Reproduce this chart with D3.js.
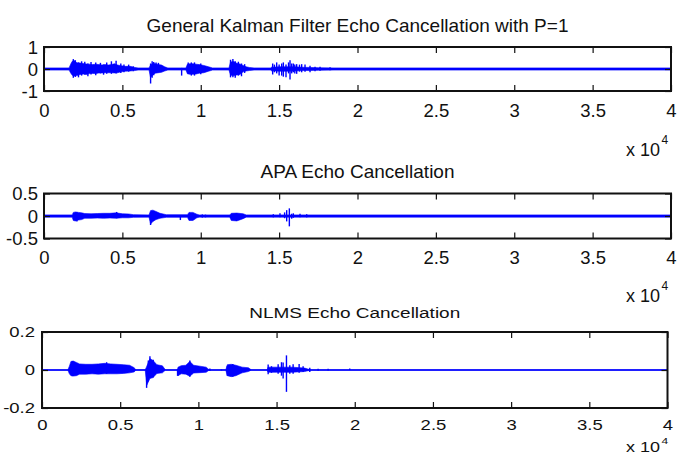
<!DOCTYPE html>
<html>
<head>
<meta charset="utf-8">
<script src="https://cdn.jsdelivr.net/npm/d3@7"></script>
<style>
body{margin:0;background:#fff}
svg{display:block}
text{font-family:"Liberation Sans",Arial,sans-serif;fill:#111}
</style>
</head>
<body>
<div id="chart"></div>
<script>
var titles = ["General Kalman Filter Echo Cancellation with P=1", "APA Echo Cancellation", "NLMS Echo Cancellation"];
var xTicks = [0, 5000, 10000, 15000, 20000, 25000, 30000, 35000, 40000];
var kalmanYTicks = [-1, 0, 1];
var apaYTicks = [-0.5, 0, 0.5];
var nlmsYTicks = [-0.2, 0, 0.2];

// envelope of each error signal (sample index, upper, lower)
var kalmanT  = [0, 1600, 1700, 1800, 1950, 2100, 2300, 2500, 2700, 2900, 3100, 3300, 3500, 3700, 3900, 4100, 4300, 4500, 4700, 4900, 5200, 5500, 5800, 6000,
                6700, 6800, 6950, 7100, 7300, 7500, 7700, 7900, 9050, 9150, 9300, 9500, 9700, 9900, 10200, 10500, 10750,
                11800, 11900, 12100, 12300, 12500, 12700, 12900, 13100, 13400, 14450, 14500, 15000, 15500, 16000, 16500, 17000, 17500, 18500, 40000];
var kalmanHi = [0.05, 0.05, 0.22, 0.35, 0.38, 0.28, 0.27, 0.25, 0.23, 0.22, 0.2, 0.22, 0.2, 0.18, 0.2, 0.18, 0.2, 0.24, 0.18, 0.15, 0.12, 0.12, 0.07, 0.05,
                0.05, 0.18, 0.26, 0.24, 0.2, 0.18, 0.1, 0.05, 0.05, 0.22, 0.24, 0.24, 0.22, 0.2, 0.16, 0.1, 0.05,
                0.05, 0.32, 0.34, 0.26, 0.23, 0.16, 0.1, 0.07, 0.05, 0.05, 0.08, 0.1, 0.1, 0.1, 0.08, 0.07, 0.06, 0.05, 0.05];
var kalmanLo = [-0.05, -0.05, -0.18, -0.28, -0.32, -0.3, -0.25, -0.23, -0.25, -0.21, -0.2, -0.21, -0.18, -0.18, -0.17, -0.17, -0.17, -0.18, -0.17, -0.13, -0.1, -0.09, -0.07, -0.05,
                -0.05, -0.4, -0.26, -0.19, -0.17, -0.15, -0.09, -0.05, -0.05, -0.22, -0.24, -0.24, -0.23, -0.19, -0.17, -0.1, -0.05,
                -0.05, -0.28, -0.3, -0.27, -0.25, -0.13, -0.09, -0.07, -0.05, -0.05, -0.08, -0.1, -0.1, -0.09, -0.07, -0.07, -0.06, -0.05, -0.05];
var kalmanSpikeT  = [1870, 2000, 2200, 2400, 2600, 2800, 3000, 3300, 3600, 3800, 4000, 4300, 4600, 4900, 5100, 5400, 5700,
                     6800, 6900, 7000, 7150, 7300, 8780, 9200, 9400, 9600, 10000, 11900, 12050, 12200, 12400, 12600, 12800,
                     14588, 14700, 14844, 15000, 15163, 15269, 15439, 15600, 15695, 15800, 15907, 16000, 16120, 16300, 16439, 16652, 16971, 17290, 17610, 18248];
var kalmanSpikeHi = [0.45, 0.4, 0.3, 0.35, 0.33, 0.25, 0.32, 0.3, 0.28, 0.2, 0.3, 0.35, 0.38, 0.25, 0.2, 0.2, 0.12,
                     0.25, 0.35, 0.32, 0.3, 0.28, 0.05, 0.3, 0.3, 0.3, 0.25, 0.42, 0.45, 0.35, 0.33, 0.25, 0.22,
                     0.25, 0.2, 0.3, 0.2, 0.25, 0.3, 0.2, 0.3, 0.4, 0.25, 0.25, 0.2, 0.22, 0.2, 0.22, 0.2, 0.15, 0.1, 0.1, 0.08];
var kalmanSpikeLo = [-0.4, -0.36, -0.38, -0.3, -0.25, -0.33, -0.25, -0.28, -0.2, -0.26, -0.22, -0.22, -0.2, -0.18, -0.15, -0.12, -0.1,
                     -0.66, -0.4, -0.28, -0.15, -0.15, -0.3, -0.22, -0.3, -0.3, -0.24, -0.38, -0.38, -0.4, -0.3, -0.33, -0.18,
                     -0.25, -0.15, -0.2, -0.3, -0.3, -0.35, -0.37, -0.2, -0.48, -0.2, -0.15, -0.2, -0.22, -0.12, -0.15, -0.12, -0.15, -0.1, -0.08, -0.06];

var apaT  = [0, 1800, 1870, 2000, 2200, 2400, 2600, 3000, 3400, 3800, 4200, 4600, 5000, 5400, 5700,
             6700, 6800, 6950, 7150, 7400, 7800, 9150, 9250, 9500, 9750, 9900, 11850, 11950, 12300, 12700, 12900, 40000];
var apaHi = [0.025, 0.025, 0.08, 0.09, 0.08, 0.07, 0.055, 0.05, 0.055, 0.06, 0.06, 0.07, 0.05, 0.045, 0.03,
             0.025, 0.12, 0.13, 0.1, 0.06, 0.03, 0.03, 0.08, 0.08, 0.04, 0.025, 0.025, 0.06, 0.065, 0.05, 0.025, 0.025];
var apaLo = [-0.025, -0.025, -0.1, -0.11, -0.09, -0.08, -0.05, -0.05, -0.045, -0.05, -0.045, -0.05, -0.04, -0.04, -0.03,
             -0.025, -0.18, -0.12, -0.08, -0.05, -0.03, -0.03, -0.1, -0.1, -0.04, -0.025, -0.025, -0.1, -0.11, -0.06, -0.025, -0.025];
var apaSpikeT  = [2100, 4637, 6800, 8700, 10100, 10300, 14630, 15055, 15350, 15482, 15652, 15800, 15907, 16333, 16758];
var apaSpikeHi = [0.09, 0.09, 0.05, 0.02, 0.035, 0.03, 0.04, 0.06, 0.08, 0.13, 0.17, 0.05, 0.06, 0.05, 0.04];
var apaSpikeLo = [-0.12, -0.05, -0.2, -0.09, -0.035, -0.03, -0.03, -0.03, -0.05, -0.12, -0.23, -0.06, -0.04, -0.03, -0.03];

var nlmsT  = [0, 1650, 1750, 1850, 2000, 2200, 2400, 2800, 3200, 3600, 4000, 4400, 4800, 5200, 5600, 5900, 6000,
              6600, 6700, 6900, 7100, 7350, 7700, 7900, 8650, 8700, 8900, 9200, 9450, 9700, 10100, 10500, 10700,
              11750, 11850, 12100, 12400, 12800, 13200, 13400, 14400, 14450, 15000, 16000, 16800, 17200, 40000];
var nlmsHi = [0, 0, 0.02, 0.045, 0.047, 0.04, 0.032, 0.03, 0.03, 0.032, 0.035, 0.032, 0.03, 0.028, 0.025, 0.012, 0,
              0, 0.02, 0.06, 0.05, 0.028, 0.022, 0, 0, 0.015, 0.023, 0.025, 0.045, 0.025, 0.02, 0.015, 0,
              0, 0.028, 0.03, 0.025, 0.015, 0.012, 0, 0, 0.015, 0.015, 0.015, 0.01, 0, 0];
var nlmsLo = [0, 0, -0.02, -0.03, -0.032, -0.03, -0.022, -0.022, -0.02, -0.022, -0.02, -0.02, -0.02, -0.018, -0.015, -0.01, 0,
              0, -0.08, -0.045, -0.04, -0.018, -0.015, 0, 0, -0.03, -0.02, -0.022, -0.033, -0.016, -0.014, -0.012, 0,
              0, -0.03, -0.035, -0.03, -0.015, -0.008, 0, 0, -0.012, -0.012, -0.012, -0.008, 0, 0];
var nlmsSpikeT  = [1950, 4132, 6689, 6800, 6901, 7114, 8669, 9457, 10735, 11480, 11850, 12200,
                   14462, 14675, 15101, 15314, 15420, 15633, 15846, 16059, 16443, 16698, 17124, 17657, 18296, 19680];
var nlmsSpikeHi = [0.047, 0.041, 0.01, 0.05, 0.072, 0.054, 0.005, 0.05, 0.008, 0.003, 0.02, 0.032,
                   0.029, 0.02, 0.03, 0.041, 0.04, 0.077, 0.025, 0.03, 0.032, 0.02, 0.012, 0.006, 0.006, 0.008];
var nlmsSpikeLo = [-0.032, -0.02, -0.094, -0.06, -0.03, -0.04, -0.031, -0.036, -0.005, -0.003, -0.03, -0.036,
                   -0.022, -0.015, -0.02, -0.03, -0.045, -0.115, -0.02, -0.02, -0.015, -0.01, -0.01, -0.004, -0.003, 0];

var W = 677, H = 461;
var blue = "#0000ff";

var panels = [
  {title: titles[0], t: kalmanT, hi: kalmanHi, lo: kalmanLo, st: kalmanSpikeT, sh: kalmanSpikeHi, sl: kalmanSpikeLo,
   yDomain: [-1, 1], yTicks: kalmanYTicks, left: 44, right: 671, top: 47, bottom: 91,
   titleY: 31.5, labelY: 117, yLabelX: 38, expY: 156, supDy: -12, k: 1},
  {title: titles[1], t: apaT, hi: apaHi, lo: apaLo, st: apaSpikeT, sh: apaSpikeHi, sl: apaSpikeLo,
   yDomain: [-0.5, 0.5], yTicks: apaYTicks, left: 44, right: 671, top: 193.5, bottom: 238.5,
   titleY: 178, labelY: 264, yLabelX: 38, expY: 302, supDy: -12, k: 1},
  {title: titles[2], t: nlmsT, hi: nlmsHi, lo: nlmsLo, st: nlmsSpikeT, sh: nlmsSpikeHi, sl: nlmsSpikeLo,
   yDomain: [-0.2, 0.2], yTicks: nlmsYTicks, left: 42, right: 667.5, top: 332, bottom: 408,
   titleY: 318, labelY: 430, yLabelX: 35, expY: 451.5, supDy: -10, k: 0.78}
];

var svg = d3.select("#chart").append("svg")
  .attr("width", W)
  .attr("height", H);

panels.forEach(function(p){
  var g = svg.append("g");
  var x = d3.scaleLinear().domain([0, 40000]).range([p.left, p.right]);
  var y = d3.scaleLinear().domain(p.yDomain).range([p.bottom, p.top]);

  var env = p.t.map(function(t, i){ return {t: t, hi: p.hi[i], lo: p.lo[i]}; });
  var area = d3.area()
    .x(function(d){ return x(d.t); })
    .y0(function(d){ return y(d.lo); })
    .y1(function(d){ return y(d.hi); });

  g.append("line")
    .attr("x1", x(0)).attr("x2", x(40000))
    .attr("y1", y(0)).attr("y2", y(0))
    .attr("stroke", blue).attr("stroke-width", 1.3);

  g.append("path").datum(env)
    .attr("d", area)
    .attr("fill", blue)
    .attr("stroke", blue)
    .attr("stroke-width", 0.6);

  g.selectAll(".spike").data(p.st).enter().append("line")
    .attr("class", "spike")
    .attr("x1", function(d){ return x(d); })
    .attr("x2", function(d){ return x(d); })
    .attr("y1", function(d, i){ return y(p.sh[i]); })
    .attr("y2", function(d, i){ return y(p.sl[i]); })
    .attr("stroke", blue)
    .attr("stroke-width", 1.4);

  // axes, matlab style: inward ticks on all four sides
  var bottomAx = g.append("g").attr("transform", "translate(0," + p.bottom + ")")
    .call(d3.axisBottom(x).tickValues(xTicks).tickSizeInner(-6).tickSizeOuter(0)
      .tickFormat(function(d){ return String(d / 1e4); }));
  g.append("g").attr("transform", "translate(0," + p.top + ")")
    .call(d3.axisTop(x).tickValues(xTicks).tickSizeInner(-6).tickSizeOuter(0).tickFormat(""));
  var leftAx = g.append("g").attr("transform", "translate(" + p.left + ",0)")
    .call(d3.axisLeft(y).tickValues(p.yTicks).tickSizeInner(-6).tickSizeOuter(0)
      .tickFormat(function(d){ return String(d); }));
  g.append("g").attr("transform", "translate(" + p.right + ",0)")
    .call(d3.axisRight(y).tickValues(p.yTicks).tickSizeInner(-6).tickSizeOuter(0).tickFormat(""));

  g.selectAll(".domain").remove();
  g.selectAll(".tick line").attr("stroke", "#111").attr("stroke-width", 1.2);

  bottomAx.selectAll("text")
    .attr("y", 0).attr("dy", null)
    .attr("transform", "translate(0," + (p.labelY - p.bottom) + ") scale(1," + p.k + ")")
    .style("font-size", "18.5px").style("fill", "#111");
  leftAx.selectAll("text")
    .attr("x", p.yLabelX - p.left).attr("y", 0).attr("dy", null)
    .attr("transform", "translate(0," + (6.3 * p.k) + ") scale(1," + p.k + ")")
    .style("font-size", "18.5px").style("fill", "#111");

  g.append("rect")
    .attr("x", p.left).attr("y", p.top)
    .attr("width", p.right - p.left).attr("height", p.bottom - p.top)
    .attr("fill", "none").attr("stroke", "#111").attr("stroke-width", 2);

  g.append("text")
    .attr("transform", "translate(" + ((p.left + p.right) / 2) + "," + p.titleY + ") scale(1," + p.k + ")")
    .attr("text-anchor", "middle")
    .style("font-size", "19px")
    .text(p.title);

  var ex = g.append("text")
    .attr("transform", "translate(626," + p.expY + ") scale(1," + p.k + ")")
    .style("font-size", "18px");
  ex.append("tspan").text("x 10");
  ex.append("tspan").attr("dx", 1.5).attr("dy", p.supDy).style("font-size", "12px").text("4");
});
</script>
</body>
</html>
